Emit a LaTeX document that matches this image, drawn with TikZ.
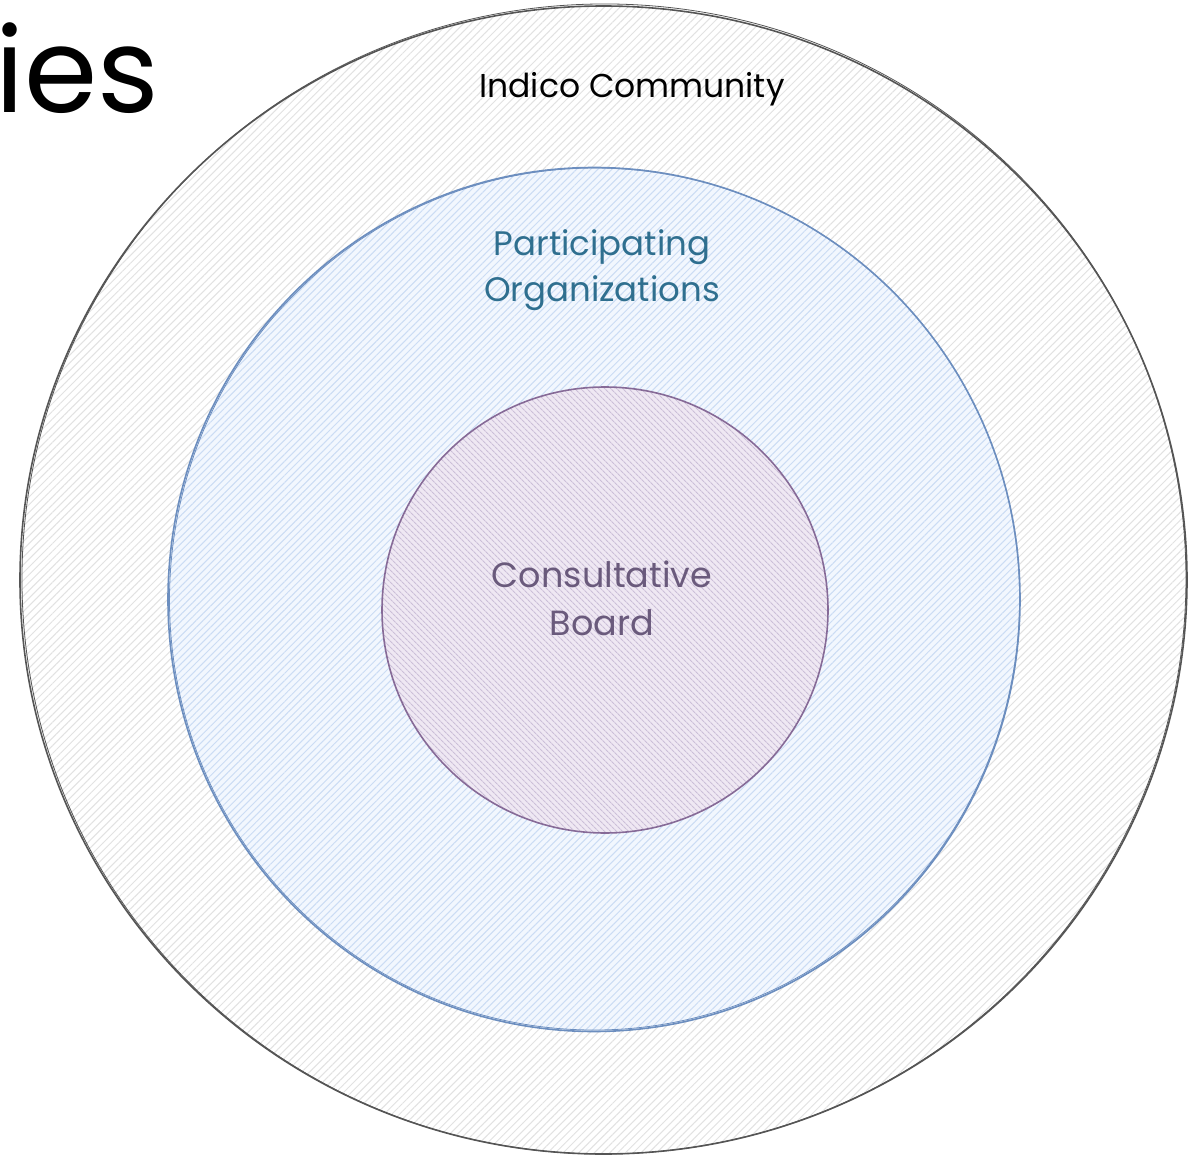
\documentclass[tikz,border=0pt]{standalone}
\usepackage{fontspec}
\setmainfont{Poppins}
\usetikzlibrary{patterns.meta}
\definecolor{outerline}{HTML}{555555}
\definecolor{outerhatch}{HTML}{E2E2E2}
\definecolor{midline}{HTML}{6C8EBF}
\definecolor{midhatch}{HTML}{CBDCF4}
\definecolor{midfill}{HTML}{F2F7FE}
\definecolor{inline}{HTML}{866A97}
\definecolor{inhatch}{HTML}{CBBFD8}
\definecolor{infill}{HTML}{EFE8F3}
\definecolor{midtext}{HTML}{2F6F8F}
\definecolor{intext}{HTML}{6A5A7C}
\tikzset{
  outerstroke/.style={draw=outerline, line width=1.6pt},
  midstroke/.style={draw=midline, line width=1.6pt},
  instroke/.style={draw=inline, line width=1.6pt},
  label/.style={inner sep=0pt, align=center},
}
\begin{document}
\begin{tikzpicture}[x=1pt,y=-1pt]
\useasboundingbox (0,0) rectangle (1195,1156);
\fill[white] (0,0) rectangle (1195,1156);
% heading fragment
\node[inner sep=0pt, anchor=base west, font=\fontsize{118}{126}\selectfont] (title) at (-5,112) {ies};
% outer circle
\path[pattern={Lines[angle=45,distance=5.5pt,line width=1pt]}, pattern color=outerhatch]
  (603.5,580) ellipse [x radius=583.5, y radius=574];
\draw[outerstroke] (603.5,580) ellipse [x radius=583.5, y radius=574];
\draw[outerline, line width=0.8pt, rotate around={2:(603.5,580)}] (604,579) ellipse [x radius=582, y radius=575];
% middle circle
\path[preaction={fill=midfill}, pattern={Lines[angle=45,distance=5pt,line width=1pt]}, pattern color=midhatch]
  (594,599.5) ellipse [x radius=426, y radius=432];
\draw[midstroke] (594,599.5) ellipse [x radius=426, y radius=432];
\draw[midline, line width=0.8pt, rotate around={-3:(594,599.5)}] (594.5,599) ellipse [x radius=425, y radius=431];
% inner circle
\path[preaction={fill=infill}, pattern={Lines[angle=-45,distance=4pt,line width=1.1pt]}, pattern color=inhatch]
  (605,610) ellipse [x radius=223, y radius=223];
\draw[instroke] (605,610) ellipse [x radius=223, y radius=223];
% labels
\node[label, anchor=base, font=\fontsize{33}{40}\selectfont] (community) at (632,97) {Indico Community};
\node[label, anchor=base, text=midtext, font=\fontsize{34}{46}\selectfont] (orgs1) at (602,255) {Participating};
\node[label, anchor=base, text=midtext, font=\fontsize{34}{46}\selectfont] (orgs2) at (602,301) {Organizations};
\node[label, anchor=base, text=intext, font=\fontsize{35}{46}\selectfont] (board1) at (602,587) {Consultative};
\node[label, anchor=base, text=intext, font=\fontsize{35}{46}\selectfont] (board2) at (602,635) {Board};
\end{tikzpicture}
\end{document}
